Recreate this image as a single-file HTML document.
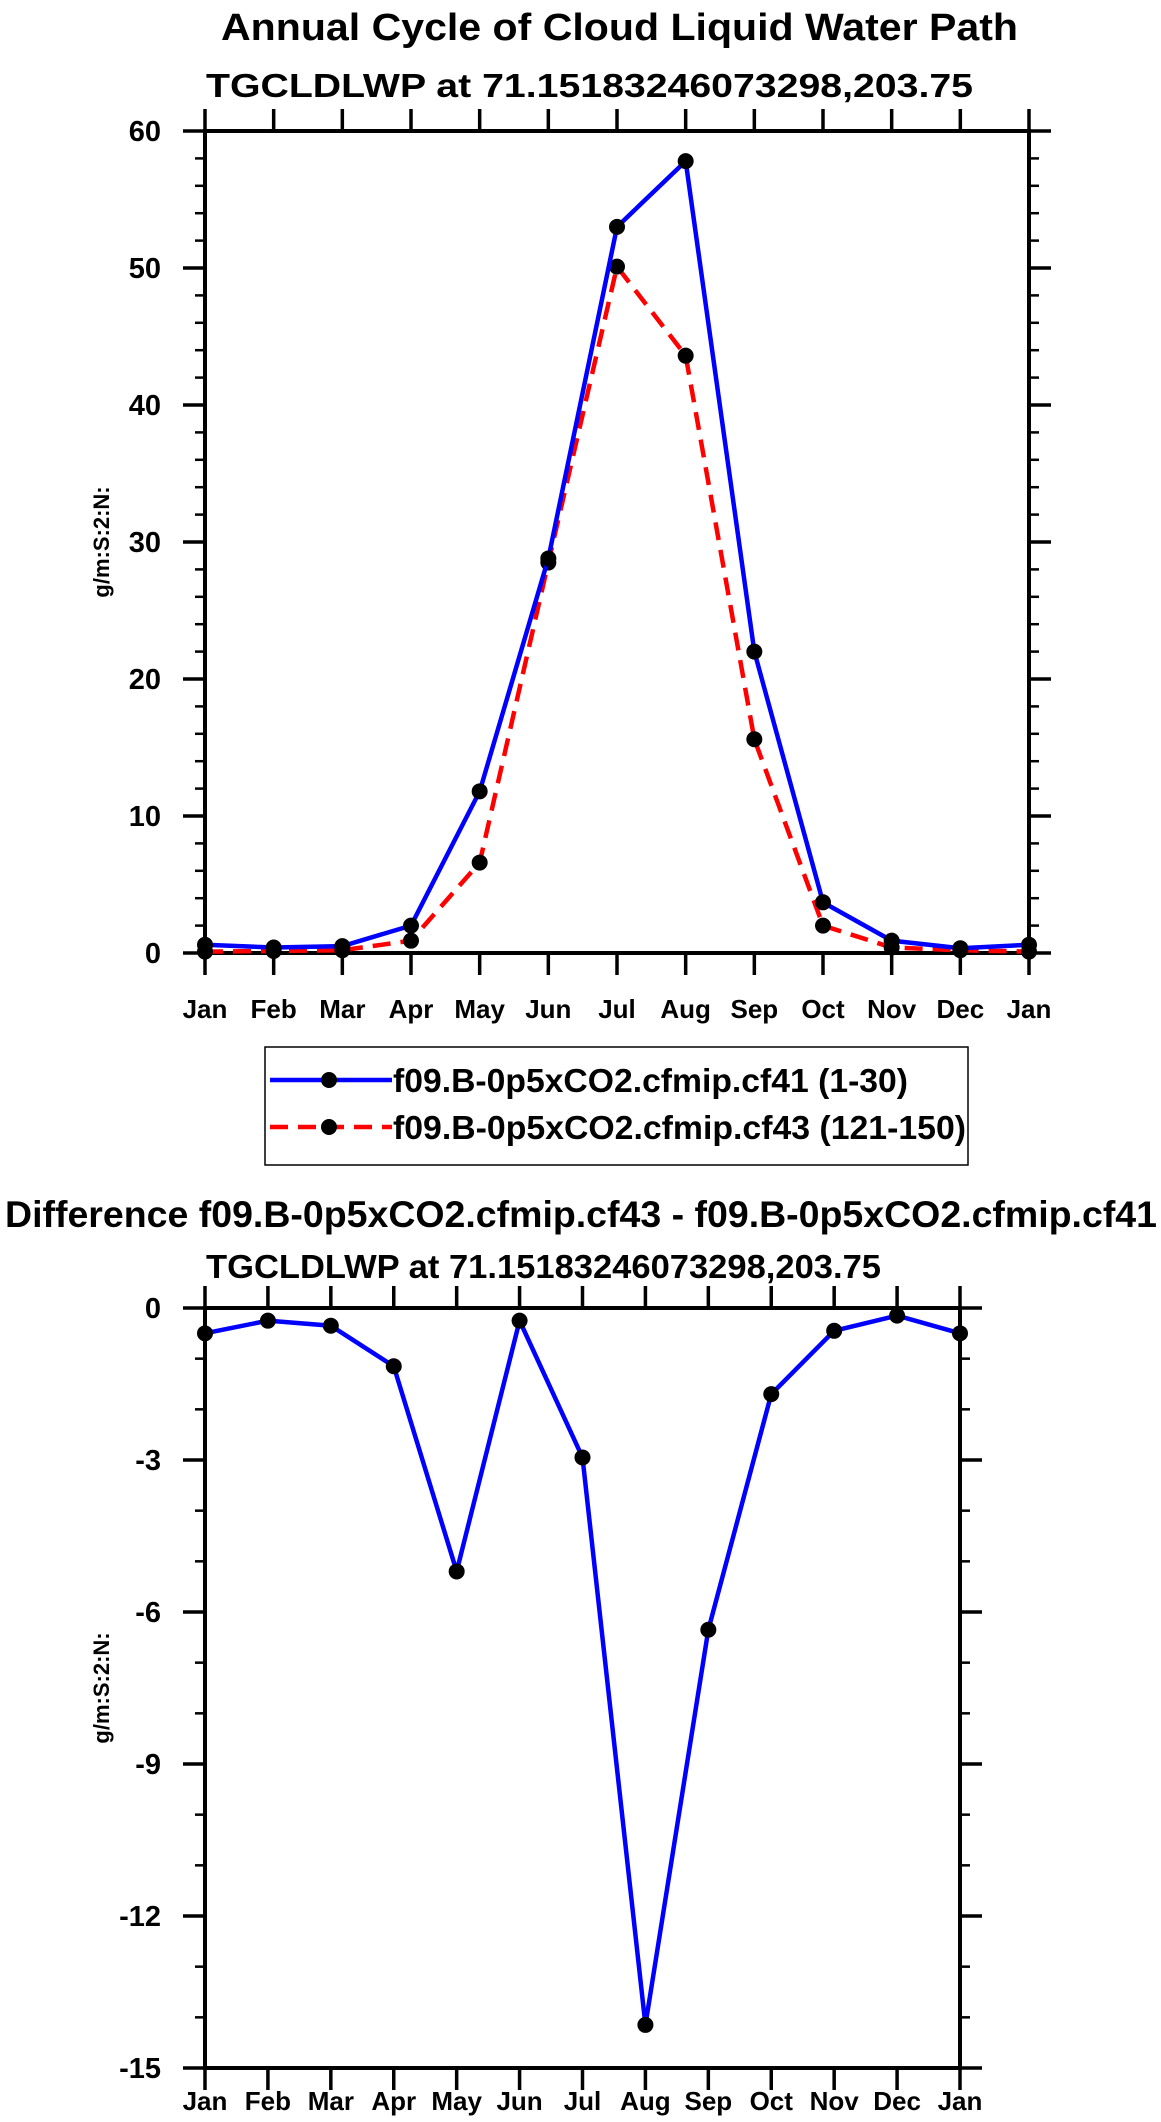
<!DOCTYPE html>
<html><head><meta charset="utf-8"><style>
html,body{margin:0;padding:0;background:#fff}
svg{display:block}
text{font-family:"Liberation Sans",sans-serif;font-weight:bold;fill:#000}
</style></head><body>
<svg id="svg" width="1161" height="2122" viewBox="0 0 1161 2122" xmlns="http://www.w3.org/2000/svg">
<text x="221" y="40" font-size="38" textLength="797" lengthAdjust="spacingAndGlyphs">Annual Cycle of Cloud Liquid Water Path</text>
<text x="206" y="97" font-size="33" textLength="767" lengthAdjust="spacingAndGlyphs">TGCLDLWP at 71.15183246073298,203.75</text>
<text x="5" y="1227" font-size="37" textLength="1152" lengthAdjust="spacingAndGlyphs">Difference f09.B-0p5xCO2.cfmip.cf43 - f09.B-0p5xCO2.cfmip.cf41</text>
<text x="206" y="1278" font-size="33" textLength="675" lengthAdjust="spacingAndGlyphs">TGCLDLWP at 71.15183246073298,203.75</text>
<g>
<rect x="265" y="1047" width="703" height="118" fill="none" stroke="#000" stroke-width="1.5"/>
<g>
<line x1="270" y1="1080" x2="392" y2="1080" stroke="#0000ff" stroke-width="4.5"/>
<circle cx="329" cy="1080" r="8" fill="#000"/>
<text x="393" y="1092" font-size="33" textLength="515" lengthAdjust="spacingAndGlyphs">f09.B-0p5xCO2.cfmip.cf41 (1-30)</text>
</g>
<g>
<line x1="270" y1="1127" x2="392" y2="1127" stroke="#ff0000" stroke-width="4.5" stroke-dasharray="18,10"/>
<circle cx="329" cy="1127" r="8" fill="#000"/>
<text x="393" y="1139" font-size="33" textLength="573" lengthAdjust="spacingAndGlyphs">f09.B-0p5xCO2.cfmip.cf43 (121-150)</text>
</g>
</g>
</svg>
<script>
const months=["Jan","Feb","Mar","Apr","May","Jun","Jul","Aug","Sep","Oct","Nov","Dec","Jan"];
const cf41=[0.6,0.4,0.5,2.0,11.8,28.8,53.0,57.8,22.0,3.7,0.9,0.35,0.6];
const cf43=[0.1,0.15,0.2,0.9,6.6,28.5,50.1,43.6,15.6,2.0,0.4,0.2,0.1];
const diff=[-0.5,-0.25,-0.35,-1.15,-5.2,-0.25,-2.95,-14.15,-6.35,-1.7,-0.45,-0.15,-0.5];
const topTicks=[0,10,20,30,40,50,60];
const botTicks=[0,-3,-6,-9,-12,-15];
const NS="http://www.w3.org/2000/svg";
const svg=document.getElementById('svg');
function mk(tag,attrs,parent){const e=document.createElementNS(NS,tag);for(const k in attrs)e.setAttribute(k,attrs[k]);(parent||svg).appendChild(e);return e;}
function panel(name,L,R,T,B,ymin,ymax,ticks,minorStep,series,labelY){
  const g=mk('g',{});
  
  
  const xs=i=>L+(R-L)*i/12;
  const ys=v=>B-(v-ymin)/(ymax-ymin)*(B-T);
  for(let v=ymin;v<=ymax+1e-9;v+=minorStep){
    const y=ys(v);
    mk('line',{x1:L-10,y1:y,x2:L,y2:y,stroke:'#000','stroke-width':2.5},g);
    mk('line',{x1:R,y1:y,x2:R+10,y2:y,stroke:'#000','stroke-width':2.5},g);
  }
  ticks.forEach(v=>{
    const y=ys(v);
    mk('line',{x1:L-22,y1:y,x2:L,y2:y,stroke:'#000','stroke-width':3.5},g);
    mk('line',{x1:R,y1:y,x2:R+22,y2:y,stroke:'#000','stroke-width':3.5},g);
    const t=mk('text',{x:L-44,y:y+10,'font-size':29,'text-anchor':'end'},g);
    t.textContent=String(v);
    
    
  });
  months.forEach((m,i)=>{
    const x=xs(i);
    mk('line',{x1:x,y1:T-22,x2:x,y2:T,stroke:'#000','stroke-width':3.5},g);
    mk('line',{x1:x,y1:B,x2:x,y2:B+22,stroke:'#000','stroke-width':3.5},g);
    const t=mk('text',{x:x,y:labelY,'font-size':26,'text-anchor':'middle'},g);
    t.textContent=m;
    
    
  });
  const fr=mk('rect',{x:L,y:T,width:R-L,height:B-T,fill:'none',stroke:'#000','stroke-width':4},g);
  
  
  const yc=(T+B)/2;
  const at=mk('text',{x:0,y:0,'font-size':22,'text-anchor':'middle',transform:`translate(109,${yc}) rotate(-90)`},g);
  at.textContent='g/m:S:2:N:';
  
  
  series.forEach(s=>{
    const p=mk('polyline',{points:s.data.map((v,i)=>xs(i)+','+ys(v)).join(' '),fill:'none',stroke:s.color,'stroke-width':4.5,'stroke-dasharray':s.dash||'none'},g);
    
    
    s.data.forEach((v,i)=>{
      const c=mk('circle',{cx:xs(i),cy:ys(v),r:8,fill:'#000'},g);
      
      
    });
  });
}
panel('top-chart',205,1029,131,953,0,60,topTicks,2,
 [{name:'cf43',data:cf43,color:'#ff0000',dash:'18,10'},{name:'cf41',data:cf41,color:'#0000ff'}],1018);
panel('difference-chart',205,960,1308,2068,-15,0,botTicks,1,
 [{name:'difference',data:diff,color:'#0000ff'}],2110);
</script>
</body></html>
